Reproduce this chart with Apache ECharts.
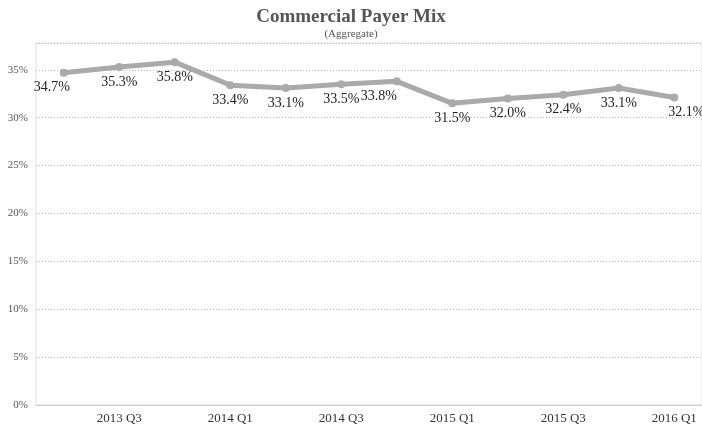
<!DOCTYPE html>
<html>
<head>
<meta charset="utf-8">
<script src="https://cdn.jsdelivr.net/npm/echarts@6/dist/echarts.min.js"></script>
<style>
  html, body { margin: 0; padding: 0; background: #fff; }
  #chart { width: 702px; height: 427px; }
</style>
</head>
<body>
<div id="chart"></div>
<script>
// quarters shown on the x axis
var quarters = ["2013 Q2", "2013 Q3", "2013 Q4", "2014 Q1", "2014 Q2", "2014 Q3",
  "2014 Q4", "2015 Q1", "2015 Q2", "2015 Q3", "2015 Q4", "2016 Q1"];
// commercial share, percent
var commercialPct = [34.7, 35.3, 35.8, 33.4, 33.1, 33.5, 33.8, 31.5, 32.0, 32.4, 33.1, 32.1];
// label nudges (px) where the original moved labels off the line
var labelShiftX = [-12, 0, 0, 0, 0, 0, -18, 0, 0, 0, 0, 12];

var serif = '"Liberation Serif", "Times New Roman", serif';

var chart = echarts.init(document.getElementById("chart"));

var points = commercialPct.map(function (v, i) {
  return {
    value: v,
    label: { offset: [labelShiftX[i], 0] }
  };
});

chart.setOption({
  animation: false,
  title: {
    text: "Commercial Payer Mix",
    subtext: "(Aggregate)",
    left: "center",
    top: 3,
    itemGap: 2,
    textStyle: { fontFamily: serif, fontSize: 19, fontWeight: "bold", color: "#555" },
    subtextStyle: { fontFamily: serif, fontSize: 11, color: "#555" }
  },
  grid: {
    left: 36,
    right: -1,
    top: 43,
    bottom: 22,
    show: true,
    borderColor: "#ddd",
    borderWidth: 1
  },
  xAxis: {
    type: "category",
    data: quarters,
    axisLine: { lineStyle: { color: "#ccc" } },
    axisTick: { alignWithLabel: true, interval: 0, length: 4, lineStyle: { color: "#ccc" } },
    axisLabel: {
      interval: function (i) { return i % 2 === 1; },
      fontFamily: serif,
      fontSize: 13,
      color: "#333",
      margin: 7
    }
  },
  yAxis: {
    type: "value",
    min: 0,
    max: 37.8,
    interval: 5,
    axisLine: { show: false },
    axisTick: { show: false },
    axisLabel: {
      showMaxLabel: false,
      formatter: "{value}%",
      fontFamily: serif,
      fontSize: 11,
      color: "#555",
      margin: 8
    },
    splitLine: { lineStyle: { color: "#bbb", type: [1, 2] } }
  },
  series: [{
    type: "line",
    data: points,
    symbol: "circle",
    symbolSize: 8,
    lineStyle: { color: "#aaa", width: 5 },
    itemStyle: { color: "#aaa" },
    label: {
      show: true,
      position: "bottom",
      distance: 4,
      formatter: function (p) { return p.value.toFixed(1) + "%"; },
      fontFamily: serif,
      fontSize: 14,
      color: "#222"
    }
  }]
});
</script>
</body>
</html>
